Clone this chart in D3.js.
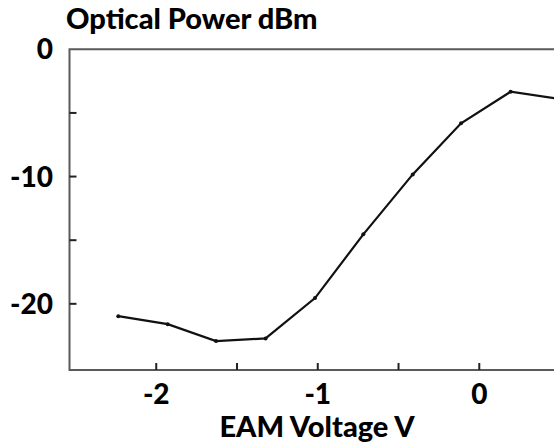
<!DOCTYPE html>
<html>
<head>
<meta charset="utf-8">
<script src="https://cdn.jsdelivr.net/npm/d3@7"></script>
<style>
  body { margin: 0; background: #fff; }
  text { font-family: Lato, "Open Sans", sans-serif; font-weight: 900; fill: #000; }
</style>
</head>
<body>
<svg class="chart" width="554" height="445"></svg>
<script>
// EAM voltage (V) vs optical power (dBm)
var voltage = [-2.235, -1.929, -1.630, -1.323, -1.017, -0.718, -0.412, -0.113, 0.194, 0.500];
var power   = [-20.97, -21.6, -22.93, -22.72, -19.55, -14.54, -9.83, -5.82, -3.33, -3.9];
var xTicks = [-2.5, -2, -1.5, -1, -0.5, 0, 0.5];
var xLabels = [-2, -1, 0];
var yTicks = [0, -5, -10, -15, -20];
var yLabels = [0, -10, -20];

var svg = d3.select(".chart");

var x = d3.scaleLinear().domain([-2.537, 0.6]).range([69.5, 576.2]),
    y = d3.scaleLinear().domain([-25.2, 0]).range([370, 49.3]);

var data = voltage.map(function(v, i) { return { v: v, p: power[i] }; });

// frame (left, top, bottom)
svg.append("path")
    .attr("d", "M" + x(0.6) + "," + y(0) + "H" + x.range()[0] + "V" + y(-25.2) + "H" + x(0.6))
    .attr("fill", "none")
    .attr("stroke", "#5a5a5a")
    .attr("stroke-width", 2);

// y ticks (inward)
svg.selectAll(".ytick")
    .data(yTicks.filter(function(d) { return d !== 0; }))
    .enter().append("line")
    .attr("x1", x.range()[0]).attr("x2", x.range()[0] + 7)
    .attr("y1", function(d) { return y(d); })
    .attr("y2", function(d) { return y(d); })
    .attr("stroke", "#222").attr("stroke-width", 2);

svg.selectAll(".ylab")
    .data(yLabels)
    .enter().append("text")
    .attr("x", 53)
    .attr("y", function(d) { return y(d); })
    .attr("dy", "0.36em")
    .attr("text-anchor", "end")
    .style("font-size", "28px")
    .text(function(d) { return d; });

// x ticks (inward)
svg.selectAll(".xtick")
    .data(xTicks.filter(function(d) { return d > -2.5; }))
    .enter().append("line")
    .attr("x1", function(d) { return x(d); })
    .attr("x2", function(d) { return x(d); })
    .attr("y1", y(-25.2)).attr("y2", y(-25.2) - 7)
    .attr("stroke", "#222").attr("stroke-width", 2);

svg.selectAll(".xlab")
    .data(xLabels)
    .enter().append("text")
    .attr("x", function(d) { return x(d); })
    .attr("y", 394)
    .attr("dy", "0.36em")
    .attr("text-anchor", "middle")
    .style("font-size", "28px")
    .text(function(d) { return d; });

// titles
svg.append("text")
    .attr("x", 66).attr("y", 29)
    .style("font-size", "29px")
    .text("Optical Power dBm");

svg.append("text")
    .attr("x", 317).attr("y", 437)
    .attr("text-anchor", "middle")
    .style("font-size", "29px")
    .text("EAM Voltage V");

// data line
var line = d3.line()
    .x(function(d) { return x(d.v); })
    .y(function(d) { return y(d.p); });

svg.append("path")
    .datum(data)
    .attr("fill", "none")
    .attr("stroke", "#111")
    .attr("stroke-width", 2.2)
    .attr("d", line);

svg.selectAll(".dot")
    .data(data)
    .enter().append("circle")
    .attr("cx", function(d) { return x(d.v); })
    .attr("cy", function(d) { return y(d.p); })
    .attr("r", 2)
    .attr("fill", "#111");
</script>
</body>
</html>
